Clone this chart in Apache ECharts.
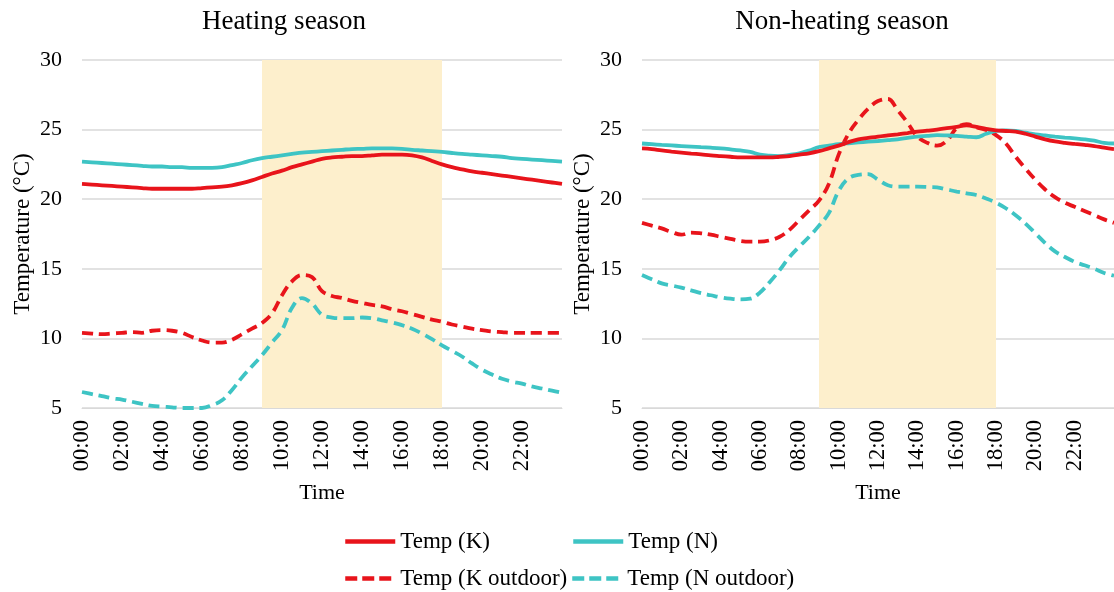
<!DOCTYPE html>
<html>
<head>
<meta charset="utf-8">
<script src="https://cdn.jsdelivr.net/npm/echarts@6/dist/echarts.min.js"></script>
<style>html,body{margin:0;padding:0;background:#fff;}#c{width:1114px;height:592px;}</style>
</head>
<body>
<div id="c"></div>
<script>
const times = ['00:00','00:30','01:00','01:30','02:00','02:30','03:00','03:30','04:00','04:30','05:00','05:30','06:00','06:30','07:00','07:30','08:00','08:30','09:00','09:30','10:00','10:30','11:00','11:30','12:00','12:30','13:00','13:30','14:00','14:30','15:00','15:30','16:00','16:30','17:00','17:30','18:00','18:30','19:00','19:30','20:00','20:30','21:00','21:30','22:00','22:30','23:00','23:30','24:00'];
const shadeRange = ['09:00', '18:00'];
const panelTitles = ['Heating season', 'Non-heating season'];
const seriesNames = ['Temp (K)', 'Temp (N)', 'Temp (K outdoor)', 'Temp (N outdoor)'];

// Heating season
const heatK = [21.1,21.05,21.0,20.95,20.9,20.85,20.8,20.75,20.75,20.75,20.75,20.75,20.8,20.85,20.9,21.0,21.15,21.35,21.6,21.85,22.05,22.3,22.5,22.7,22.9,23.0,23.05,23.1,23.1,23.15,23.2,23.2,23.2,23.15,23.0,22.75,22.5,22.3,22.15,22.0,21.9,21.8,21.7,21.6,21.5,21.4,21.3,21.2,21.1];
const heatN = [22.7,22.65,22.6,22.55,22.5,22.45,22.4,22.35,22.35,22.3,22.3,22.25,22.25,22.25,22.3,22.45,22.6,22.8,22.95,23.05,23.15,23.25,23.35,23.4,23.45,23.5,23.55,23.6,23.62,23.65,23.65,23.65,23.62,23.55,23.5,23.45,23.4,23.32,23.25,23.2,23.15,23.1,23.05,22.95,22.9,22.85,22.8,22.75,22.7];
const heatKout = [10.4,10.35,10.3,10.35,10.4,10.45,10.4,10.55,10.6,10.55,10.4,10.1,9.85,9.7,9.7,9.9,10.3,10.7,11.1,11.8,13.1,14.1,14.55,14.4,13.4,13.05,12.9,12.7,12.55,12.4,12.3,12.1,11.95,11.75,11.55,11.35,11.2,11.0,10.85,10.7,10.6,10.5,10.45,10.4,10.4,10.4,10.4,10.4,10.4];
const heatNout = [6.15,6.0,5.85,5.7,5.6,5.45,5.3,5.15,5.1,5.05,5.0,5.0,5.0,5.2,5.55,6.3,7.2,8.0,8.8,9.7,10.6,12.2,12.9,12.5,11.7,11.5,11.45,11.45,11.5,11.45,11.3,11.15,10.95,10.7,10.35,9.95,9.5,9.1,8.7,8.2,7.75,7.4,7.1,6.9,6.75,6.55,6.4,6.25,6.1];

// Non-heating season
const nonK = [23.65,23.6,23.5,23.42,23.35,23.28,23.22,23.15,23.1,23.05,23.0,23.0,23.0,23.0,23.05,23.1,23.2,23.3,23.45,23.65,23.85,24.1,24.3,24.4,24.5,24.58,24.66,24.75,24.85,24.92,25.0,25.1,25.2,25.3,25.2,25.05,24.95,24.9,24.85,24.7,24.5,24.3,24.15,24.05,23.97,23.9,23.82,23.7,23.6];
const nonN = [24.0,23.95,23.9,23.86,23.82,23.78,23.74,23.7,23.65,23.58,23.5,23.4,23.2,23.12,23.1,23.18,23.3,23.5,23.75,23.85,23.95,24.02,24.08,24.13,24.18,24.24,24.3,24.4,24.5,24.55,24.6,24.58,24.55,24.5,24.45,24.7,24.9,24.95,24.9,24.78,24.66,24.58,24.5,24.43,24.37,24.3,24.2,24.05,24.0];
const nonKout = [18.3,18.1,17.9,17.65,17.45,17.6,17.55,17.45,17.3,17.15,17.0,16.95,16.95,17.05,17.3,17.8,18.5,19.2,19.9,21.1,23.2,24.7,25.7,26.5,27.05,27.2,26.4,25.5,24.5,24.05,23.85,24.2,25.1,25.4,25.17,24.97,24.6,24.0,23.05,22.2,21.4,20.7,20.15,19.75,19.45,19.15,18.85,18.55,18.3];
const nonNout = [14.55,14.25,13.95,13.8,13.65,13.45,13.25,13.1,12.95,12.85,12.8,12.85,13.3,14.05,14.9,15.85,16.6,17.3,18.1,19.0,20.6,21.5,21.75,21.8,21.4,21.0,20.9,20.9,20.9,20.88,20.85,20.7,20.55,20.42,20.3,20.05,19.75,19.35,18.85,18.25,17.55,16.85,16.25,15.85,15.5,15.25,15.0,14.7,14.5];

const yTicks = {min: 5, max: 30, interval: 5};

const RED = '#e8141b', TEAL = '#3ec4c4', BAND = '#fdefcc', GRID = '#d9d9d9';
const FONT = '"Liberation Serif", "Times New Roman", serif';
const colors = [RED, TEAL, RED, TEAL];
const dashed = [false, false, true, true];
const panels = [[heatK, heatN, heatKout, heatNout], [nonK, nonN, nonKout, nonNout]];
const gridLefts = [82, 642];
const titleCenters = [284, 842];

const chart = echarts.init(document.getElementById('c'), null, {renderer: 'canvas'});

const grids = [], xAxes = [], yAxes = [], series = [], titles = [];
panels.forEach((data, p) => {
  grids.push({left: gridLefts[p], top: 60, width: 480, height: 348, containLabel: false});
  titles.push({
    text: panelTitles[p], left: titleCenters[p] - 5, top: 3, textAlign: 'center',
    textStyle: {fontFamily: FONT, fontSize: 27, fontWeight: 'normal', color: '#000'}
  });
  xAxes.push({
    type: 'category', gridIndex: p, data: times, boundaryGap: false,
    name: 'Time', nameLocation: 'middle', nameGap: 74,
    nameTextStyle: {fontFamily: FONT, fontSize: 22, color: '#000'},
    axisLine: {show: true, lineStyle: {color: GRID, width: 1}},
    axisTick: {show: false},
    axisLabel: {
      interval: 3, rotate: 90, margin: 12, fontFamily: FONT, fontSize: 22.5, color: '#000',
      formatter: v => (v === '24:00' ? '' : v)
    },
    splitLine: {show: false}
  });
  yAxes.push({
    type: 'value', gridIndex: p, min: yTicks.min, max: yTicks.max, interval: yTicks.interval,
    name: 'Temperature (°C)', nameLocation: 'middle', nameGap: 48, nameRotate: 90,
    nameTextStyle: {fontFamily: FONT, fontSize: 23, color: '#000'},
    axisLine: {show: false}, axisTick: {show: false},
    axisLabel: {margin: 20, fontFamily: FONT, fontSize: 22, color: '#000'},
    splitLine: {show: true, lineStyle: {color: GRID, width: 1.5}}
  });
  series.push({
    type: 'line', name: '_band' + p, xAxisIndex: p, yAxisIndex: p, data: [], silent: true, z: 1,
    markArea: {silent: true, itemStyle: {color: BAND}, data: [[{xAxis: shadeRange[0]}, {xAxis: shadeRange[1]}]]}
  });
  data.forEach((arr, i) => {
    series.push({
      type: 'line', name: seriesNames[i], xAxisIndex: p, yAxisIndex: p, data: arr,
      smooth: 0.4, symbol: 'none', showSymbol: false, z: 3 + (3 - i),
      lineStyle: {color: colors[i], width: 3.8, type: dashed[i] ? [11, 6] : 'solid', cap: 'butt'},
      itemStyle: {color: colors[i]}
    });
  });
});

const legendPos = [[343, 530], [571, 530], [343, 567], [570, 567]];
const legends = seriesNames.map((n, i) => ({
  data: [n], left: legendPos[i][0], top: legendPos[i][1], itemWidth: 50, itemHeight: 14, itemGap: 0,
  padding: 0, selectedMode: false,
  itemStyle: {opacity: 0},
  lineStyle: {width: 4.5, color: colors[i], type: dashed[i] ? [12, 5] : 'solid'},
  textStyle: {fontFamily: FONT, fontSize: 23, color: '#000'}
}));

chart.setOption({
  backgroundColor: '#fff',
  animation: false,
  title: titles,
  grid: grids,
  xAxis: xAxes,
  yAxis: yAxes,
  legend: legends,
  series: series
});
</script>
</body>
</html>
